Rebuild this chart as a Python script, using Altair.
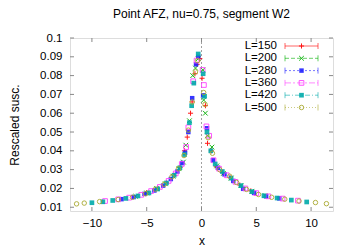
import altair as alt
import pandas as pd

labels = ["L=150", "L=200", "L=280", "L=360", "L=420", "L=500"]
colors = ["#ff0000", "#00b000", "#2020ff", "#ff40ff", "#00aaaa", "#aaaa30"]

x150 = [-5.0, -4.0, -3.2, -2.5, -1.95, -1.55, -1.3, -1.0, -0.85, -0.6, -0.4, -0.15, 0.05, 0.36, 0.55, 0.9, 1.35, 1.9, 2.6, 3.5, 4.5]
y150 = [0.0178, 0.0201, 0.0230, 0.0270, 0.0312, 0.0400, 0.0473, 0.060, 0.066, 0.081, 0.086, 0.089, 0.0786, 0.064, 0.044, 0.040, 0.0315, 0.0285, 0.0258, 0.0218, 0.0187]

x200 = [-6.0, -5.0, -4.1, -3.3, -2.6, -2.05, -1.65, -1.43, -1.1, -0.8, -0.55, -0.3, 0.12, 0.2, 0.35, 0.55, 0.95, 1.4, 2.0, 2.7, 3.6, 4.6, 5.8]
y200 = [0.0158, 0.0176, 0.0199, 0.0225, 0.0265, 0.0305, 0.034, 0.043, 0.056, 0.080, 0.084, 0.089, 0.083, 0.067, 0.060, 0.048, 0.042, 0.032, 0.028, 0.0255, 0.0215, 0.0185, 0.0162]

x280 = [-7.3, -6.2, -5.2, -4.3, -3.5, -2.8, -2.2, -1.75, -1.5, -1.2, -0.85, -0.5, -0.3, 0.15, 0.5, 1.05, 1.5, 2.1, 2.9, 3.8, 4.8, 5.9, 7.1]
y280 = [0.0143, 0.0154, 0.0171, 0.0189, 0.0215, 0.0250, 0.029, 0.0335, 0.039, 0.050, 0.068, 0.086, 0.090, 0.0695, 0.052, 0.035, 0.031, 0.0275, 0.024, 0.0198, 0.0176, 0.0158, 0.0147]

x360 = [-8.8, -7.6, -6.6, -5.5, -4.6, -3.8, -3.0, -2.35, -1.8, -1.4, -1.2, -0.76, -0.45, 0.1, 0.22, 0.45, 0.7, 1.1, 1.6, 2.3, 3.1, 4.0, 5.0, 6.1, 7.4, 8.8]
y360 = [0.0133, 0.0142, 0.0151, 0.0166, 0.0186, 0.0208, 0.0240, 0.0280, 0.033, 0.042, 0.0525, 0.077, 0.088, 0.083, 0.075, 0.053, 0.048, 0.035, 0.0305, 0.027, 0.0235, 0.0200, 0.0175, 0.0158, 0.0146, 0.0135]

x420 = [-10.0, -9.0, -8.1, -6.9, -5.8, -4.8, -4.0, -3.2, -2.5, -1.97, -1.55, -1.1, -0.9, -0.7, -0.3, 0.15, 0.28, 0.5, 0.85, 1.25, 1.9, 2.7, 3.6, 4.6, 5.7, 6.9, 8.2, 9.6]
y420 = [0.0124, 0.0129, 0.0136, 0.0147, 0.0160, 0.0176, 0.0197, 0.0229, 0.0270, 0.031, 0.038, 0.055, 0.064, 0.076, 0.0915, 0.081, 0.069, 0.050, 0.040, 0.033, 0.029, 0.0255, 0.0215, 0.0183, 0.0161, 0.0149, 0.0138, 0.0128]

x500 = [-11.4, -10.7, -9.3, -7.6, -6.3, -5.1, -4.2, -3.4, -2.7, -2.1, -1.6, -1.2, -0.85, -0.55, -0.35, 0.2, 0.32, 0.6, 1.0, 1.66, 2.57, 3.2, 4.1, 5.2, 6.4, 7.6, 8.9, 10.4, 11.4]
y500 = [0.0118, 0.0122, 0.0130, 0.0141, 0.0153, 0.0172, 0.0196, 0.0222, 0.0262, 0.0305, 0.0375, 0.051, 0.066, 0.082, 0.088, 0.071, 0.0647, 0.047, 0.0387, 0.030, 0.0265, 0.0232, 0.0195, 0.0168, 0.0153, 0.0143, 0.0133, 0.0125, 0.0119]

xs = [x150, x200, x280, x360, x420, x500]
ys = [y150, y200, y280, y360, y420, y500]

x_ticks = [-10, -5, 0, 5, 10]
y_ticks = [0.01, 0.02, 0.03, 0.04, 0.05, 0.06, 0.07, 0.08, 0.09, 0.1]

PLUS = "M-1,0L1,0M0,-1L0,1"
XSH = "M-1,-1L1,1M-1,1L1,-1"
shapes = [PLUS, XSH, "square", "square", "square", "circle"]
filled = [False, False, True, False, True, False]
sizes = [26, 22, 20, 22, 22, 20]
dashes = [[1, 0], [4, 2], [2, 2], [6, 2, 2, 2], [5, 2, 1, 2], [1, 2]]

W, H = 263, 173
FONT = "Liberation Sans"

xsc = alt.Scale(domain=[-12, 12], nice=False, zero=False)
ysc = alt.Scale(domain=[0.008, 0.1], nice=False, zero=False)

x_axis = alt.Axis(values=x_ticks, title="x", ticks=False, tickSize=0, domain=False,
                  grid=False, labelPadding=6, titlePadding=7, labelFont=FONT,
                  labelFontSize=11.5, titleFont=FONT, titleFontSize=12,
                  titleFontWeight="normal", labelColor="black", titleColor="black",
                  labelOverlap=False)
y_axis = alt.Axis(values=y_ticks, title="Rescaled susc.", ticks=False, tickSize=0,
                  domain=False, grid=False, labelPadding=8, titlePadding=18,
                  labelFont=FONT, labelFontSize=11.5, titleFont=FONT,
                  titleFontSize=12, titleFontWeight="normal",
                  labelColor="black", titleColor="black", format="g",
                  labelOverlap=False, labelFlush=False)

layers = []

yt = pd.DataFrame({"t": y_ticks})
xt = pd.DataFrame({"t": x_ticks})
tc = "#888888"
TK = 4

# zero axis line
layers.append(alt.Chart(pd.DataFrame({"z": [0]})).mark_rule(
    color="#a0a0a0", strokeDash=[2, 2], strokeWidth=1
).encode(
    x=alt.X("z:Q", scale=xsc, axis=x_axis),
    y=alt.value(0), y2=alt.value(H),
))

# inward mirrored ticks
layers.append(alt.Chart(yt).mark_rule(color=tc).encode(
    y=alt.Y("t:Q", scale=ysc, axis=y_axis), x=alt.value(0), x2=alt.value(TK)))
layers.append(alt.Chart(yt).mark_rule(color=tc).encode(
    y=alt.Y("t:Q", scale=ysc, axis=y_axis), x=alt.value(W), x2=alt.value(W - TK)))
layers.append(alt.Chart(xt).mark_rule(color=tc).encode(
    x=alt.X("t:Q", scale=xsc, axis=x_axis), y=alt.value(H), y2=alt.value(H - TK)))
layers.append(alt.Chart(xt).mark_rule(color=tc).encode(
    x=alt.X("t:Q", scale=xsc, axis=x_axis), y=alt.value(0), y2=alt.value(TK)))

# data points
for i in range(6):
    df = pd.DataFrame({"x": xs[i], "y": ys[i]})
    layers.append(alt.Chart(df).mark_point(
        shape=shapes[i], filled=filled[i], size=sizes[i], color=colors[i],
        strokeWidth=1, opacity=0.9
    ).encode(
        x=alt.X("x:Q", scale=xsc, axis=x_axis),
        y=alt.Y("y:Q", scale=ysc, axis=y_axis),
    ))

# legend
one = alt.Data(values=[{"a": 1}])
for i in range(6):
    yy = 8 + 12.3 * i
    layers.append(alt.Chart(one).mark_text(
        align="right", baseline="middle", font=FONT, fontSize=11.5, color="black"
    ).encode(x=alt.value(207), y=alt.value(yy), text=alt.value(labels[i])))
    layers.append(alt.Chart(one).mark_rule(
        color=colors[i], strokeDash=dashes[i], strokeWidth=1, opacity=0.6
    ).encode(x=alt.value(215), x2=alt.value(248), y=alt.value(yy)))
    for cx in (215, 248):
        layers.append(alt.Chart(one).mark_rule(color=colors[i], strokeWidth=1, opacity=0.6).encode(
            x=alt.value(cx), y=alt.value(yy - 3), y2=alt.value(yy + 3)))
    layers.append(alt.Chart(one).mark_point(
        shape=shapes[i], filled=filled[i], size=sizes[i], color=colors[i],
        strokeWidth=1, opacity=0.9
    ).encode(x=alt.value(231.5), y=alt.value(yy)))

chart = alt.layer(*layers).properties(
    width=W, height=H,
    title=alt.Title("Point AFZ, nu=0.75, segment W2", font=FONT, fontSize=12,
                    fontWeight="normal", color="black", offset=11),
    padding={"left": 62, "top": 30, "right": 13, "bottom": 37},
    autosize="none",
).configure_view(stroke="#888888", strokeWidth=1.2).configure_axis(
    labelOverlap=False
).configure(background="white")

chart.save("out.html", embed_options={"renderer": "svg", "actions": False})
